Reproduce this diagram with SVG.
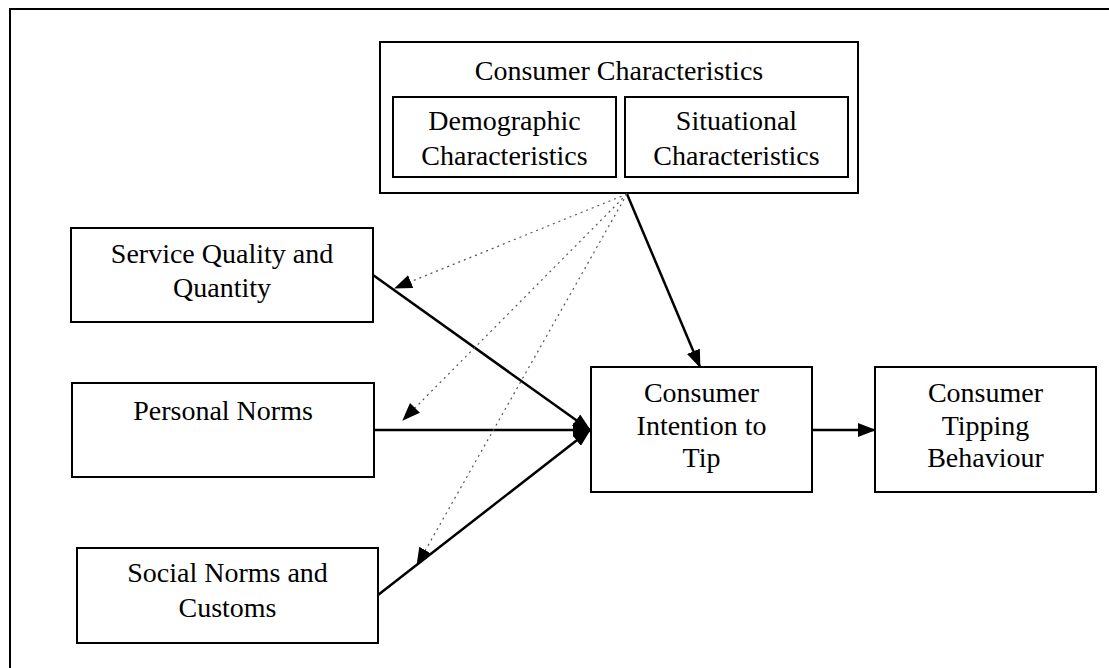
<svg xmlns="http://www.w3.org/2000/svg" width="1109" height="668" viewBox="0 0 1109 668">
<style>
  .box { fill: #fff; stroke: #000; stroke-width: 2; }
  .t { font-family: "Liberation Serif", "Times New Roman", serif; font-size: 28px; fill: #000; text-anchor: middle; }
  .solid { stroke: #000; stroke-width: 2.5; fill: none; marker-end: url(#ah); }
  .dot { stroke: #555; stroke-width: 1.2; stroke-dasharray: 2 4; fill: none; marker-end: url(#ah); }
</style>
<defs>
  <marker id="ah" markerUnits="userSpaceOnUse" markerWidth="18" markerHeight="14" refX="17" refY="7" orient="auto">
    <path d="M0,0 L18,7 L0,14 Z" fill="#000"/>
  </marker>
</defs>
<rect width="1109" height="668" fill="#fff"/>
<path d="M10,668 L10,9 L1109,9" stroke="#000" stroke-width="2" fill="none"/>

<g id="consumer-characteristics">
  <rect class="box" x="380" y="42" width="478" height="151"/>
  <text class="t" x="619" y="80">Consumer Characteristics</text>
  <g id="demographic">
    <rect class="box" x="393" y="97" width="223" height="80"/>
    <text class="t" x="504.5" y="130">Demographic</text>
    <text class="t" x="504.5" y="165">Characteristics</text>
  </g>
  <g id="situational">
    <rect class="box" x="625" y="97" width="223" height="80"/>
    <text class="t" x="736.5" y="130">Situational</text>
    <text class="t" x="736.5" y="165">Characteristics</text>
  </g>
</g>

<g id="service-quality">
  <rect class="box" x="71" y="228" width="302" height="94"/>
  <text class="t" x="222" y="263">Service Quality and</text>
  <text class="t" x="222" y="297">Quantity</text>
</g>

<g id="personal-norms">
  <rect class="box" x="72" y="383" width="302" height="94"/>
  <text class="t" x="223" y="420">Personal Norms</text>
</g>

<g id="social-norms">
  <rect class="box" x="77" y="548" width="301" height="95"/>
  <text class="t" x="227.5" y="582">Social Norms and</text>
  <text class="t" x="227.5" y="617">Customs</text>
</g>

<g id="intention">
  <rect class="box" x="591" y="367" width="221" height="125"/>
  <text class="t" x="701.5" y="402">Consumer</text>
  <text class="t" x="701.5" y="435">Intention to</text>
  <text class="t" x="701.5" y="467">Tip</text>
</g>

<g id="behaviour">
  <rect class="box" x="875" y="367" width="221" height="125"/>
  <text class="t" x="985.5" y="402">Consumer</text>
  <text class="t" x="985.5" y="435">Tipping</text>
  <text class="t" x="985.5" y="467">Behaviour</text>
</g>

<g id="connectors">
  <line class="solid" x1="627" y1="194" x2="700" y2="367"/>
  <line class="solid" x1="373" y1="275" x2="590" y2="430"/>
  <line class="solid" x1="374" y1="430" x2="590" y2="430"/>
  <line class="solid" x1="378" y1="595" x2="590" y2="430"/>
  <line class="solid" x1="812" y1="430" x2="875" y2="430"/>
  <line class="dot" x1="627" y1="194" x2="395" y2="288"/>
  <line class="dot" x1="627" y1="194" x2="403" y2="420"/>
  <line class="dot" x1="627" y1="194" x2="417" y2="565"/>
</g>
</svg>
